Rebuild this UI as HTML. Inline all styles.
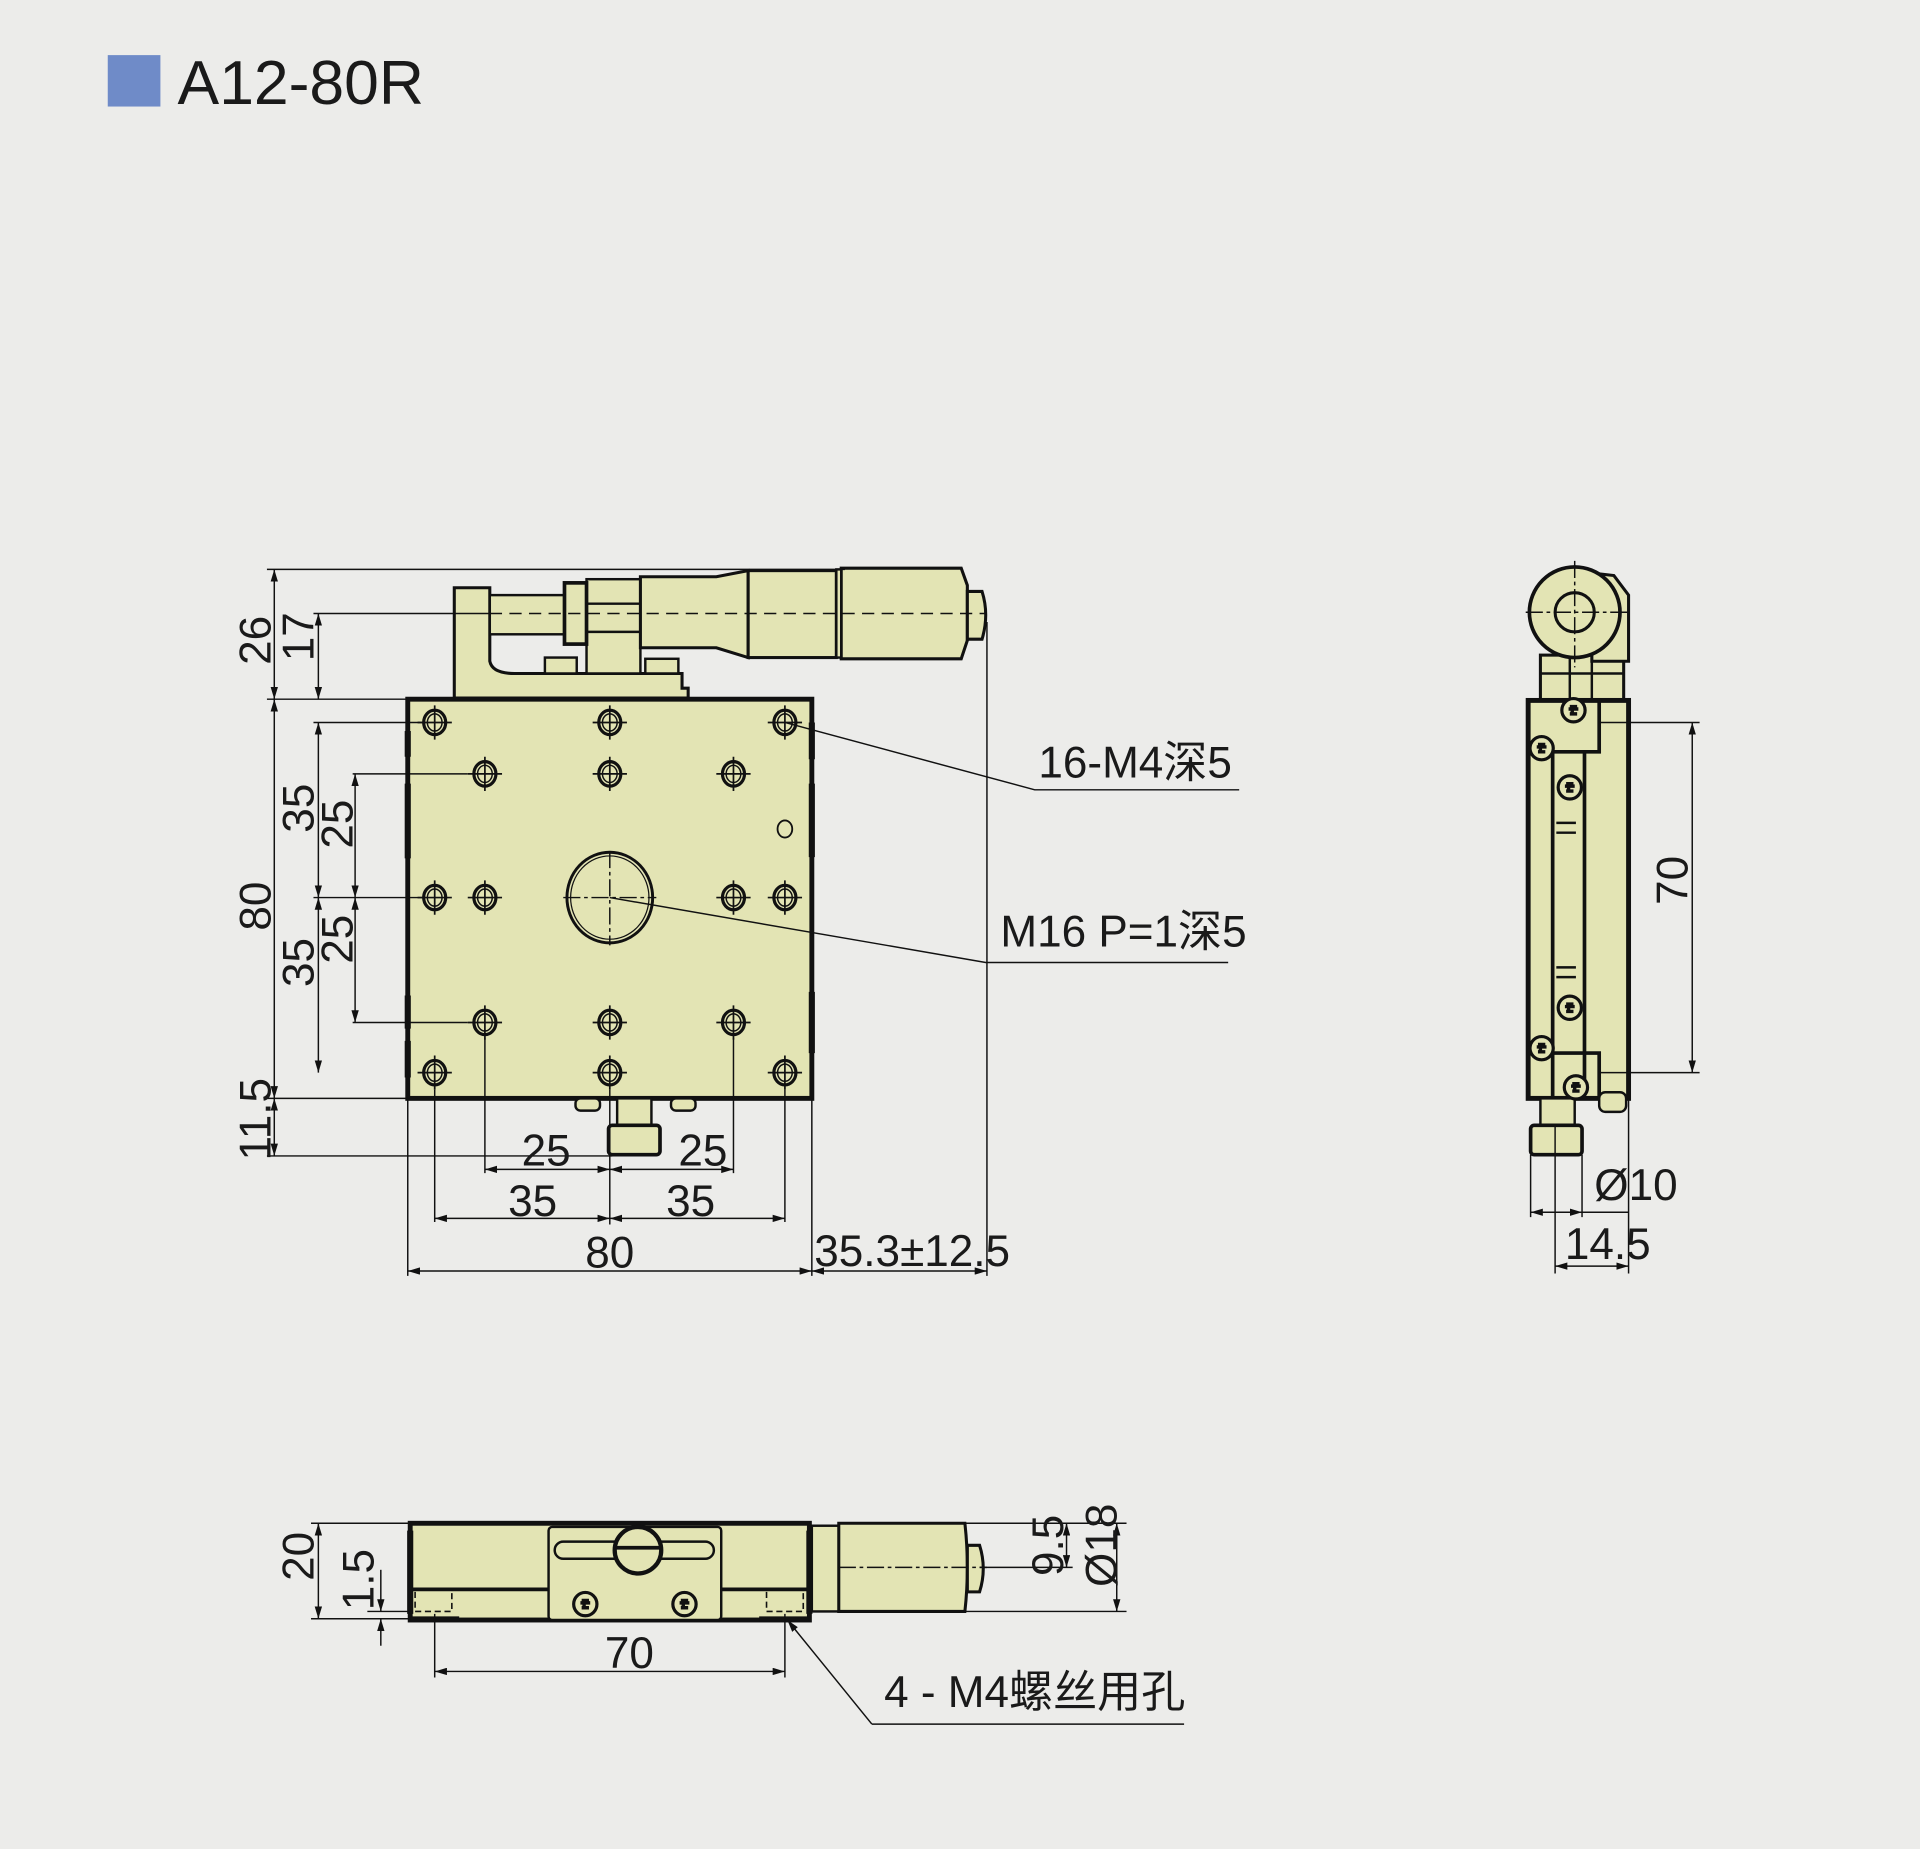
<!DOCTYPE html>
<html><head><meta charset="utf-8"><style>
html,body{margin:0;padding:0;background:#ececea;}
svg{display:block;}
text{font-family:"Liberation Sans","Noto Sans CJK SC",sans-serif;fill:#1a1a1a;}
</style></head><body>
<svg width="1920" height="1849" viewBox="0 0 1568 1510" xmlns="http://www.w3.org/2000/svg">
<defs>
<marker id="a" viewBox="0 0 10 6" refX="10" refY="3" markerWidth="10" markerHeight="6" orient="auto-start-reverse" markerUnits="userSpaceOnUse"><path d="M0,0L10,3L0,6z" fill="#111"/></marker>
<g id="h"><ellipse cx="0" cy="0" rx="9" ry="10" fill="none" stroke="#111" stroke-width="2.6"/><ellipse cx="0" cy="0" rx="6" ry="7" fill="none" stroke="#111" stroke-width="1.2"/><path d="M-14,0H14M0,-14V14" stroke="#111" stroke-width="1.4"/></g>
<g id="s"><circle r="9.5" fill="#e3e4b4" stroke="#111" stroke-width="2.6"/><path d="M-4,-1h8M-1,-4v8M-3,3h6M-3,-3h6" stroke="#111" stroke-width="2.8"/></g>
</defs>
<rect width="1568" height="1510" fill="#ececea"/>
<rect x="88" y="45" width="43" height="42" fill="#6f8bc8"/>
<text x="145" y="85" font-size="51">A12-80R</text>

<g stroke="#111" fill="#e3e4b4" stroke-width="2">
<path d="M371,480H400V540Q402,550 420,550H557V562H562V570H371Z" stroke-width="2.5"/>
<rect x="400" y="486" width="61" height="32"/>
<rect x="445" y="537" width="26" height="13"/>
<rect x="527" y="538" width="27" height="12"/>
<rect x="479" y="473" width="44" height="77"/>
<rect x="461" y="476" width="18" height="50" stroke-width="3"/>
<path d="M479,493H523M479,516H523"/>
<path d="M523,471H585L611,466V537L585,529H523Z" stroke-width="2.5"/>
<rect x="611" y="466" width="72" height="71" stroke-width="2.5"/>
<path d="M687,464H785L790,478V523L785,538H687Z" stroke-width="2.5"/>
<rect x="683" y="465" width="4" height="72"/>
<path d="M790,483H802Q808,502 802,522H790Z" stroke-width="2.5"/>
<rect x="333" y="571" width="330" height="326" stroke-width="4"/>
<rect x="470" y="897" width="20" height="10" rx="4"/>
<rect x="548" y="897" width="20" height="10" rx="4"/>
<rect x="504" y="897" width="28" height="22"/>
<rect x="497" y="919" width="42" height="24" rx="3" stroke-width="3"/>
</g>
<path d="M333,597V618M333,640V701M333,813V840M333,850V880M663,590V620M663,640V700M663,810V860" stroke="#111" stroke-width="5"/>
<line x1="400" y1="501" x2="806" y2="501" stroke="#111" stroke-width="1.2" stroke-dasharray="10,6"/>
<g>
<use href="#h" x="355" y="590"/><use href="#h" x="498" y="590"/><use href="#h" x="641" y="590"/>
<use href="#h" x="396" y="632"/><use href="#h" x="498" y="632"/><use href="#h" x="599" y="632"/>
<use href="#h" x="355" y="733"/><use href="#h" x="396" y="733"/><use href="#h" x="599" y="733"/><use href="#h" x="641" y="733"/>
<use href="#h" x="396" y="835"/><use href="#h" x="498" y="835"/><use href="#h" x="599" y="835"/>
<use href="#h" x="355" y="876"/><use href="#h" x="498" y="876"/><use href="#h" x="641" y="876"/>
</g>
<ellipse cx="498" cy="733" rx="35" ry="37" fill="none" stroke="#111" stroke-width="2.4"/>
<ellipse cx="498" cy="733" rx="32" ry="34" fill="none" stroke="#111" stroke-width="1"/>
<path d="M460,733H536M498,695V772" stroke="#111" stroke-width="1.2" stroke-dasharray="14,3,3,3"/>
<ellipse cx="641" cy="677" rx="6" ry="7" fill="none" stroke="#111" stroke-width="1.5"/>

<g stroke="#111" stroke-width="1.2" fill="none">
<path d="M218,465H690M218,571H333M256,501H400M218,897H333M218,944H500M256,590H345M288,632H382M256,733H345M288,835H382"/>
<line x1="224" y1="465" x2="224" y2="571" marker-start="url(#a)" marker-end="url(#a)"/>
<line x1="260" y1="501" x2="260" y2="571" marker-start="url(#a)" marker-end="url(#a)"/>
<line x1="224" y1="571" x2="224" y2="897" marker-start="url(#a)" marker-end="url(#a)"/>
<line x1="260" y1="590" x2="260" y2="733" marker-start="url(#a)" marker-end="url(#a)"/>
<line x1="260" y1="733" x2="260" y2="876" marker-start="url(#a)" marker-end="url(#a)"/>
<line x1="290" y1="632" x2="290" y2="733" marker-start="url(#a)" marker-end="url(#a)"/>
<line x1="290" y1="733" x2="290" y2="835" marker-start="url(#a)" marker-end="url(#a)"/>
<line x1="224" y1="897" x2="224" y2="944" marker-start="url(#a)" marker-end="url(#a)"/>
<path d="M333,897V1042M355,890V998M396,848V958M498,890V1000M599,848V958M641,890V998M663,897V1042M806,508V1042"/>
<line x1="396" y1="955" x2="498" y2="955" marker-start="url(#a)" marker-end="url(#a)"/>
<line x1="498" y1="955" x2="599" y2="955" marker-start="url(#a)" marker-end="url(#a)"/>
<line x1="355" y1="995" x2="498" y2="995" marker-start="url(#a)" marker-end="url(#a)"/>
<line x1="498" y1="995" x2="641" y2="995" marker-start="url(#a)" marker-end="url(#a)"/>
<line x1="333" y1="1038" x2="663" y2="1038" marker-start="url(#a)" marker-end="url(#a)"/>
<line x1="663" y1="1038" x2="806" y2="1038" marker-start="url(#a)" marker-end="url(#a)"/>
<path d="M641,590L845,645H1012M498,733L805,786H1003"/>
</g>
<g font-size="36">
<text transform="translate(221,523) rotate(-90)" text-anchor="middle">26</text>
<text transform="translate(256,520) rotate(-90)" text-anchor="middle">17</text>
<text transform="translate(221,740) rotate(-90)" text-anchor="middle">80</text>
<text transform="translate(256,660) rotate(-90)" text-anchor="middle">35</text>
<text transform="translate(288,673) rotate(-90)" text-anchor="middle">25</text>
<text transform="translate(256,786) rotate(-90)" text-anchor="middle">35</text>
<text transform="translate(288,767) rotate(-90)" text-anchor="middle">25</text>
<text transform="translate(221,914) rotate(-90)" text-anchor="middle">11.5</text>
<text x="446" y="952" text-anchor="middle">25</text>
<text x="574" y="952" text-anchor="middle">25</text>
<text x="435" y="993" text-anchor="middle">35</text>
<text x="564" y="993" text-anchor="middle">35</text>
<text x="498" y="1035" text-anchor="middle">80</text>
<text x="665" y="1034">35.3±12.5</text>
<text x="848" y="635">16-M4深5</text>
<text x="817" y="773">M16 P=1深5</text>
</g>

<g stroke="#111" fill="#e3e4b4" stroke-width="2">
<rect x="1258" y="535" width="68" height="38" stroke-width="2.5"/>
<path d="M1282,535V573M1300,535V573M1258,550H1326"/>
<path d="M1300,468L1318,470L1330,486V540H1300Z" stroke-width="2.5"/>
<circle cx="1286" cy="500" r="37" stroke-width="3"/>
<circle cx="1286" cy="500" r="16" stroke-width="2.5"/>
<rect x="1248" y="572" width="82" height="325" stroke-width="4"/>
<path d="M1248,572H1306V614H1268V897M1294,614V895M1268,822V860H1306V897" fill="none" stroke-width="3"/>
<rect x="1306" y="892" width="22" height="16" rx="5"/>
<rect x="1258" y="897" width="28" height="22"/>
<rect x="1250" y="919" width="42" height="24" rx="3" stroke-width="3"/>
</g>
<g>
<use href="#s" x="1285" y="580"/><use href="#s" x="1259" y="611"/><use href="#s" x="1282" y="643"/>
<use href="#s" x="1282" y="823"/><use href="#s" x="1259" y="856"/><use href="#s" x="1287" y="888"/>
</g>
<path d="M1271,672h16M1271,680h16M1271,790h16M1271,798h16" stroke="#111" stroke-width="2"/>
<g stroke="#111" stroke-width="1.2" fill="none">
<path d="M1246,500H1330M1286,458V545" stroke-dasharray="14,3,3,3"/>
<path d="M1306,590H1388M1306,876H1388M1250,943V994M1292,943V994M1270,920V1040M1330,897V1040"/>
<line x1="1382" y1="590" x2="1382" y2="876" marker-start="url(#a)" marker-end="url(#a)"/>
<line x1="1250" y1="990" x2="1292" y2="990" marker-start="url(#a)" marker-end="url(#a)"/>
<path d="M1292,990H1330"/>
<line x1="1270" y1="1034" x2="1330" y2="1034" marker-start="url(#a)" marker-end="url(#a)"/>
</g>
<g font-size="36">
<text transform="translate(1378,719) rotate(-90)" text-anchor="middle">70</text>
<text x="1302" y="980">Ø10</text>
<text x="1278" y="1028">14.5</text>
</g>

<g stroke="#111" fill="#e3e4b4" stroke-width="2">
<rect x="663" y="1246" width="22" height="70"/>
<path d="M685,1244H788Q792,1280 788,1316H685Z" stroke-width="2.5"/>
<path d="M790,1262H800Q806,1281 800,1300H790Z" stroke-width="2.5"/>
<rect x="335" y="1244" width="326" height="79" stroke-width="4"/>
<path d="M335,1298H448M589,1298H661" stroke-width="3"/>
<rect x="448" y="1247" width="141" height="76" rx="3"/>
<rect x="453" y="1259" width="130" height="14" rx="7"/>
<circle cx="521" cy="1266" r="19" stroke-width="3.5"/>
<path d="M503,1264H539" stroke-width="3"/>
</g>
<path d="M335,1250V1318M661,1250V1318" stroke="#111" stroke-width="5"/>
<path d="M335,1322H375M620,1322H660" stroke="#111" stroke-width="4"/>
<path d="M339,1300v16h30v-16M626,1300v16h30v-16" fill="none" stroke="#111" stroke-width="1.3" stroke-dasharray="5,3"/>
<use href="#s" x="478" y="1310"/><use href="#s" x="559" y="1310"/>
<g stroke="#111" stroke-width="1.2" fill="none">
<path d="M685,1280H806" stroke-dasharray="14,3,3,3"/>
<path d="M254,1244H335M254,1322H335M300,1316H335M788,1244H920M800,1280H876M788,1316H920M355,1318V1370M641,1318V1370"/>
<line x1="260" y1="1244" x2="260" y2="1322" marker-start="url(#a)" marker-end="url(#a)"/>
<line x1="311" y1="1282" x2="311" y2="1316" marker-end="url(#a)"/>
<line x1="311" y1="1344" x2="311" y2="1322" marker-end="url(#a)"/>
<line x1="871" y1="1244" x2="871" y2="1280" marker-start="url(#a)" marker-end="url(#a)"/>
<line x1="912" y1="1244" x2="912" y2="1316" marker-start="url(#a)" marker-end="url(#a)"/>
<line x1="355" y1="1365" x2="641" y2="1365" marker-start="url(#a)" marker-end="url(#a)"/>
<line x1="712" y1="1408" x2="643" y2="1323" marker-end="url(#a)"/>
<path d="M712,1408H967"/>
</g>
<g font-size="36">
<text transform="translate(256,1271) rotate(-90)" text-anchor="middle">20</text>
<text transform="translate(305,1290) rotate(-90)" text-anchor="middle">1.5</text>
<text transform="translate(868,1262) rotate(-90)" text-anchor="middle">9.5</text>
<text transform="translate(912,1262) rotate(-90)" text-anchor="middle">Ø18</text>
<text x="514" y="1362" text-anchor="middle">70</text>
<text x="722" y="1394">4 - M4螺丝用孔</text>
</g>
</svg>
</body></html>
